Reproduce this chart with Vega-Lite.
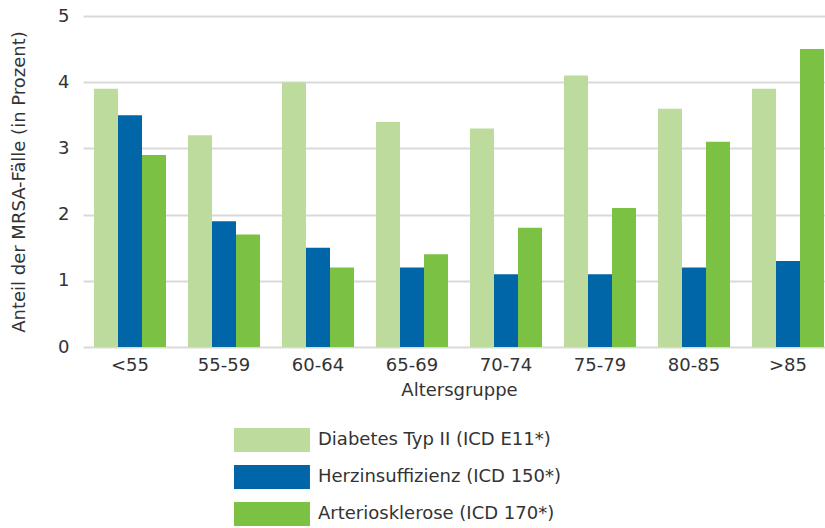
{
  "$schema": "https://vega.github.io/schema/vega-lite/v6.json",
  "width": 752,
  "height": 331,
  "autosize": "none",
  "padding": {"left": 83, "top": 16, "right": 0, "bottom": 181},
  "background": "white",
  "config": {
    "font": "DejaVu Sans",
    "view": {"stroke": null},
    "axis": {"labelFont": "DejaVu Sans", "titleFont": "DejaVu Sans", "labelColor": "#333", "titleColor": "#333", "titleFontWeight": "normal"}
  },
  "data": {
    "values": [
      {"g": "<55", "s": "Diabetes Typ II (ICD E11*)", "v": 3.9},
      {"g": "<55", "s": "Herzinsuffizienz (ICD 150*)", "v": 3.5},
      {"g": "<55", "s": "Arteriosklerose (ICD 170*)", "v": 2.9},
      {"g": "55-59", "s": "Diabetes Typ II (ICD E11*)", "v": 3.2},
      {"g": "55-59", "s": "Herzinsuffizienz (ICD 150*)", "v": 1.9},
      {"g": "55-59", "s": "Arteriosklerose (ICD 170*)", "v": 1.7},
      {"g": "60-64", "s": "Diabetes Typ II (ICD E11*)", "v": 4.0},
      {"g": "60-64", "s": "Herzinsuffizienz (ICD 150*)", "v": 1.5},
      {"g": "60-64", "s": "Arteriosklerose (ICD 170*)", "v": 1.2},
      {"g": "65-69", "s": "Diabetes Typ II (ICD E11*)", "v": 3.4},
      {"g": "65-69", "s": "Herzinsuffizienz (ICD 150*)", "v": 1.2},
      {"g": "65-69", "s": "Arteriosklerose (ICD 170*)", "v": 1.4},
      {"g": "70-74", "s": "Diabetes Typ II (ICD E11*)", "v": 3.3},
      {"g": "70-74", "s": "Herzinsuffizienz (ICD 150*)", "v": 1.1},
      {"g": "70-74", "s": "Arteriosklerose (ICD 170*)", "v": 1.8},
      {"g": "75-79", "s": "Diabetes Typ II (ICD E11*)", "v": 4.1},
      {"g": "75-79", "s": "Herzinsuffizienz (ICD 150*)", "v": 1.1},
      {"g": "75-79", "s": "Arteriosklerose (ICD 170*)", "v": 2.1},
      {"g": "80-85", "s": "Diabetes Typ II (ICD E11*)", "v": 3.6},
      {"g": "80-85", "s": "Herzinsuffizienz (ICD 150*)", "v": 1.2},
      {"g": "80-85", "s": "Arteriosklerose (ICD 170*)", "v": 3.1},
      {"g": ">85", "s": "Diabetes Typ II (ICD E11*)", "v": 3.9},
      {"g": ">85", "s": "Herzinsuffizienz (ICD 150*)", "v": 1.3},
      {"g": ">85", "s": "Arteriosklerose (ICD 170*)", "v": 4.5}
    ]
  },
  "mark": {"type": "bar"},
  "encoding": {
    "x": {
      "field": "g", "type": "nominal", "sort": null,
      "scale": {"paddingInner": 0.234, "paddingOuter": 0.117},
      "axis": {"title": "Altersgruppe", "labelAngle": 0, "labelFontSize": 18, "titleFontSize": 18, "ticks": false, "domain": false, "labelPadding": 9, "titlePadding": 7}
    },
    "xOffset": {"field": "s", "type": "nominal", "sort": null},
    "y": {
      "field": "v", "type": "quantitative",
      "scale": {"domain": [0, 5], "nice": false},
      "axis": {"title": "Anteil der MRSA-Fälle (in Prozent)", "values": [0, 1, 2, 3, 4, 5], "labelOverlap": false, "labelFontSize": 18, "titleFontSize": 18, "ticks": false, "domain": false, "gridColor": "#d9d9d9", "gridWidth": 2, "labelPadding": 14, "titlePadding": 29}
    },
    "color": {
      "field": "s", "type": "nominal", "sort": null,
      "scale": {"domain": ["Diabetes Typ II (ICD E11*)", "Herzinsuffizienz (ICD 150*)", "Arteriosklerose (ICD 170*)"], "range": ["#bddb9d", "#0066a7", "#7bc144"]},
      "legend": {
        "title": null, "orient": "none", "legendX": 151, "legendY": 412,
        "symbolType": "M-1,-1L5.33,-1L5.33,1L-1,1Z",
        "symbolSize": 576, "symbolStrokeWidth": 0,
        "labelFontSize": 18, "labelColor": "#333", "labelOffset": 60, "rowPadding": 13,
        "labelLimit": 400,
        "labelFont": "DejaVu Sans"
      }
    }
  }
}
